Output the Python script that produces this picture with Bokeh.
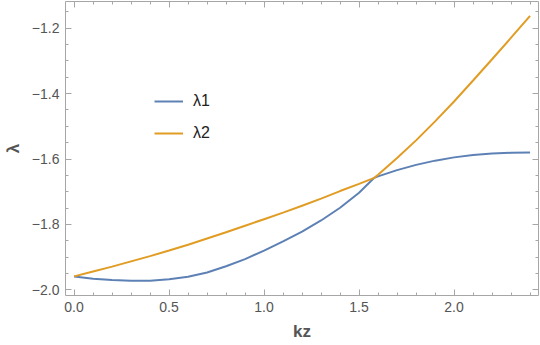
from bokeh.plotting import figure
from bokeh.models import (Range1d, LinearAxis, FixedTicker, CustomJSTickFormatter,
                          Legend, LegendItem)
from bokeh.embed import file_html
from bokeh.resources import INLINE

# ---- data ----
kz = [0.0, 0.1, 0.2, 0.3, 0.4, 0.5, 0.6, 0.7, 0.8, 0.9, 1.0, 1.1, 1.2,
      1.3, 1.4, 1.5, 1.58, 1.6, 1.7, 1.8, 1.9, 2.0, 2.1, 2.2, 2.3, 2.4]
lam1 = [-1.959, -1.966, -1.970, -1.972, -1.972, -1.968, -1.960, -1.947,
        -1.928, -1.906, -1.880, -1.852, -1.822, -1.788, -1.749, -1.703,
        -1.6575, -1.653, -1.634, -1.618, -1.605, -1.595, -1.588, -1.5835,
        -1.581, -1.580]
lam2 = [-1.959, -1.944, -1.929, -1.913, -1.897, -1.880, -1.862, -1.843,
        -1.824, -1.804, -1.784, -1.764, -1.743, -1.721, -1.698, -1.676,
        -1.6575, -1.648, -1.597, -1.543, -1.485, -1.424, -1.360, -1.295,
        -1.229, -1.162]
x_major = [0.0, 0.5, 1.0, 1.5, 2.0]
x_minor = [0.1, 0.2, 0.3, 0.4, 0.6, 0.7, 0.8, 0.9, 1.1, 1.2, 1.3, 1.4,
           1.6, 1.7, 1.8, 1.9, 2.1, 2.2, 2.3, 2.4]
y_major = [-2.0, -1.8, -1.6, -1.4, -1.2]
y_minor = [-1.95, -1.9, -1.85, -1.75, -1.7, -1.65, -1.55, -1.5, -1.45,
           -1.35, -1.3, -1.25, -1.15]
series_names = ["λ1", "λ2"]
series_colors = ["#5E81B5", "#E19C24"]
x_title = "kz"
y_title = "λ"

FONT = "Liberation Sans"
GRAY = "#555555"
AXC = "#a6a6a6"

p = figure(width=540, height=345, output_backend="svg", toolbar_location=None,
           x_range=Range1d(-0.0451, 2.4444), y_range=Range1d(-2.0174, -1.1183),
           min_border_left=63, min_border_right=2, min_border_top=1,
           min_border_bottom=50, x_axis_location=None, y_axis_location=None)
p.grid.visible = False
p.outline_line_color = None
p.background_fill_color = "white"
p.border_fill_color = "white"

fmt = CustomJSTickFormatter(code="return tick.toFixed(1).replace('-', '\u2212');")
blank = CustomJSTickFormatter(code="return '';")


def style(ax, labels=True):
    ax.axis_line_color = AXC
    ax.axis_line_width = 1
    ax.major_tick_line_color = AXC
    ax.minor_tick_line_color = AXC
    ax.major_tick_in = 6
    ax.major_tick_out = 0
    ax.minor_tick_in = 3
    ax.minor_tick_out = 0
    if labels:
        ax.major_label_text_font = FONT
        ax.major_label_text_font_size = "14px"
        ax.major_label_text_color = GRAY
        ax.axis_label_text_font = FONT
        ax.axis_label_text_font_size = "17px"
        ax.axis_label_text_font_style = "bold"
        ax.axis_label_text_color = GRAY
    else:
        ax.major_label_text_font_size = "0px"
        ax.major_label_standoff = 0
        ax.formatter = blank


xb = LinearAxis(ticker=FixedTicker(ticks=x_major, minor_ticks=x_minor),
                formatter=fmt, axis_label=x_title)
style(xb)
xb.major_label_standoff = 6
xb.axis_label_standoff = 7
p.add_layout(xb, "below")

yl = LinearAxis(ticker=FixedTicker(ticks=y_major, minor_ticks=y_minor),
                formatter=fmt, axis_label=y_title)
style(yl)
yl.major_label_standoff = 6
yl.axis_label_standoff = 6
p.add_layout(yl, "left")

xt = LinearAxis(ticker=FixedTicker(ticks=x_major, minor_ticks=x_minor))
style(xt, labels=False)
p.add_layout(xt, "above")

yr = LinearAxis(ticker=FixedTicker(ticks=y_major, minor_ticks=y_minor))
style(yr, labels=False)
p.add_layout(yr, "right")

r1 = p.line(kz, lam1, line_color=series_colors[0], line_width=2)
r2 = p.line(kz, lam2, line_color=series_colors[1], line_width=2)

legend = Legend(items=[LegendItem(label=series_names[0], renderers=[r1]),
                       LegendItem(label=series_names[1], renderers=[r2])],
                location=(89, 152), orientation="vertical",
                border_line_color=None, background_fill_alpha=0,
                padding=0, margin=0, spacing=12, glyph_width=29,
                glyph_height=20, label_height=20, label_standoff=10,
                label_text_font=FONT, label_text_font_size="16px",
                label_text_color="#222222")
p.add_layout(legend, "center")

open("out.html", "w").write(file_html(p, INLINE))
